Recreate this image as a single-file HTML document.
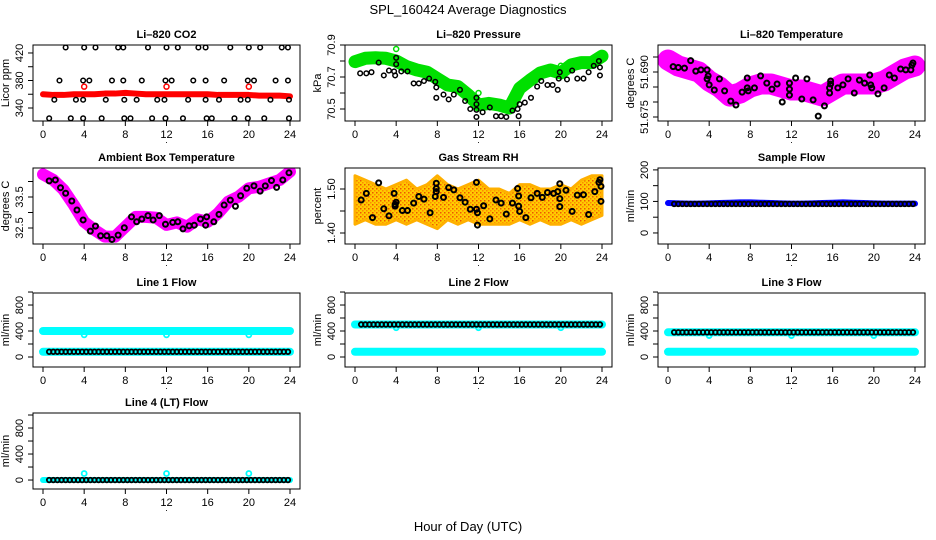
<!DOCTYPE html>
<html><head><meta charset="utf-8">
<style>
html,body{margin:0;padding:0;background:#fff;}
svg{display:block;font-family:"Liberation Sans",sans-serif;}
</style></head>
<body>
<svg id="chart" width="936" height="540" viewBox="0 0 936 540" xmlns="http://www.w3.org/2000/svg">
<defs>
<pattern id="rhpat" width="4" height="4" patternUnits="userSpaceOnUse">
<rect width="4" height="4" fill="#ffcc00"/><rect x="0" y="0" width="1.5" height="1.5" fill="#ee5500"/><rect x="2" y="2" width="1.5" height="1.5" fill="#ff8800"/>
</pattern>
</defs>
<text x="468" y="14" text-anchor="middle" font-size="13">SPL_160424  Average Diagnostics</text>
<text x="468" y="531" text-anchor="middle" font-size="13">Hour of Day (UTC)</text>
</svg>
<script>
// ---------- data ----------
const xTicks = [0,4,8,12,16,20,24];
const hours24 = [0,1,2,3,4,5,6,7,8,9,10,11,12,13,14,15,16,17,18,19,20,21,22,23,24];
const spikeHours = [4,12,20];

// CO2
const co2Red = [360,359,359,360,360,360,361,361,362,361,360,360,360,360,360,360,360,359,359,359,359,358,358,358,357];
const co2RedSpikes = [371,371,371];
const co2BlackHours = [2.2,4,5.1,7.3,7.8,10.2,12,13.1,15.1,15.8,18.2,20,21.1,23.2,23.8,
 1.6,3.9,4.5,6.7,7.8,9.6,11.9,12.5,14.6,15.8,17.6,19.9,20.5,22.6,23.8,
 1.1,3.2,3.9,6.1,7.9,9.1,11.1,11.8,14.1,15.8,17.1,19.2,19.9,22.1,23.9,
 0.6,2.7,3.9,5.7,7.9,8.5,10.6,11.9,13.6,15.9,16.4,18.6,19.9,21.5,23.9];
const co2BlackVals = [428,428,428,428,428,428,428,428,428,428,428,428,428,428,428,
 380,380,380,380,380,380,380,380,380,380,380,380,380,380,380,
 352,352,352,352,352,352,352,352,352,352,352,352,352,352,352,
 325,325,325,325,325,325,325,325,325,325,325,325,325,325,325];

// Pressure
const presGreen = [70.796,70.817,70.82,70.817,70.80,70.765,70.744,70.73,70.69,70.65,70.64,70.588,70.525,70.535,70.525,70.506,70.63,70.68,70.725,70.744,70.725,70.775,70.79,70.79,70.83];
const presGreenOut = [70.875,70.6,70.77];
const presBlackHours = [0.5,1.1,1.6,2.3,2.8,3.3,3.8,3.9,4,4,4.5,5.1,5.7,6.2,6.7,7.2,7.8,7.9,7.9,8.6,9.1,9.6,10.2,10.7,11.2,11.8,11.8,11.8,11.8,12.4,13.1,13.7,14.2,14.7,15.3,15.8,15.9,16,16.5,17.1,17.7,18.1,18.7,19.2,19.7,19.8,19.9,20.6,21.1,21.6,22.2,22.7,23.2,23.7,23.8,23.8];
const presBlackVals = [70.723,70.723,70.73,70.79,70.71,70.74,70.735,70.71,70.82,70.78,70.735,70.735,70.66,70.66,70.675,70.69,70.67,70.635,70.57,70.59,70.56,70.59,70.62,70.55,70.5,70.495,70.53,70.57,70.45,70.48,70.51,70.455,70.455,70.45,70.49,70.5,70.455,70.53,70.54,70.57,70.64,70.675,70.65,70.65,70.62,70.69,70.73,70.685,70.74,70.69,70.69,70.73,70.77,70.8,70.71,70.76];

// Li-820 temperature
const tempMag = [51.694,51.692,51.691,51.690,51.687,51.685,51.682,51.683,51.685,51.686,51.686,51.685,51.684,51.684,51.683,51.682,51.684,51.686,51.686,51.686,51.686,51.687,51.689,51.691,51.692];
const tempBlackHours = [0.5,1.0,1.6,2.2,2.7,3.2,3.8,3.8,3.9,4,4.5,5.0,5.5,6.1,6.6,7.2,7.7,7.7,7.8,8.4,9.0,9.6,10.1,10.6,11.1,11.8,11.8,11.8,12.4,13,13.5,14.1,14.6,15.2,15.7,15.7,15.8,15.8,16.5,17.0,17.5,18.1,18.6,19.1,19.6,19.7,19.8,20.4,21.0,21.5,22.0,22.6,23.1,23.6,23.7,23.8];
const tempBlackVals = [51.6918,51.6915,51.6913,51.6938,51.6903,51.6907,51.6907,51.6877,51.6887,51.6857,51.6840,51.6877,51.6837,51.6803,51.6790,51.6833,51.6880,51.6847,51.6837,51.6847,51.6887,51.6863,51.6843,51.6860,51.6800,51.6863,51.6843,51.6823,51.6880,51.6810,51.6877,51.6807,51.6753,51.6787,51.6847,51.6830,51.6870,51.6860,51.6847,51.6857,51.6877,51.6830,51.6873,51.6863,51.6890,51.6857,51.6847,51.6827,51.6847,51.6890,51.6880,51.6910,51.6907,51.6907,51.6923,51.6930];

// Ambient box temperature
const ambMag = [34.23,34.05,33.73,33.24,32.70,32.44,32.22,32.22,32.54,32.86,32.86,32.83,32.6,32.68,32.54,32.78,32.70,32.97,33.35,33.51,33.78,33.83,33.94,34.05,34.32];
const ambBlackHours = [0.6,1.2,1.7,2.2,2.8,3.3,3.9,4.6,5.1,5.6,6.2,6.7,7.3,7.9,8.6,9.1,9.6,10.2,10.7,11.3,11.9,12.6,13.1,13.6,14.2,14.7,15.3,15.8,15.9,16.6,17.1,17.6,18.2,18.7,19.2,19.8,20.5,21.1,21.6,22.2,22.7,23.3,23.9];
const ambBlackVals = [34.02,34.05,33.80,33.62,33.37,33.08,32.76,32.40,32.56,32.25,32.25,32.13,32.27,32.51,32.86,32.70,32.79,32.90,32.76,32.90,32.62,32.68,32.70,32.47,32.57,32.59,32.79,32.59,32.86,32.70,32.94,33.24,33.40,33.20,33.54,33.78,33.86,33.69,33.86,34.03,33.81,34.05,34.28];

// Gas stream RH
const rhLo = [1.42,1.43,1.42,1.42,1.43,1.42,1.43,1.42,1.41,1.43,1.42,1.43,1.42,1.42,1.42,1.42,1.43,1.42,1.43,1.42,1.42,1.43,1.42,1.43,1.44];
const rhHi = [1.53,1.52,1.51,1.50,1.51,1.52,1.50,1.51,1.53,1.51,1.50,1.51,1.52,1.50,1.50,1.49,1.51,1.51,1.50,1.50,1.51,1.50,1.52,1.53,1.53];
const rhBlackHours = [0.6,1.1,1.7,2.3,2.8,3.3,3.8,3.9,3.9,4.0,4.6,5.1,5.7,6.2,6.7,7.3,7.8,7.9,7.9,7.9,8.6,9.1,9.6,10.2,10.7,11.2,11.8,11.8,11.9,11.9,12.5,13.1,13.7,14.2,14.7,15.3,15.8,15.9,15.9,16.0,16.6,17.1,17.7,18.2,18.7,19.3,19.7,19.9,19.9,19.9,20.5,21.1,21.6,22.2,22.7,23.3,23.7,23.8,23.9,23.9];
const rhBlackVals = [1.475,1.49,1.435,1.514,1.455,1.439,1.49,1.461,1.465,1.47,1.451,1.451,1.468,1.483,1.477,1.446,1.483,1.494,1.501,1.513,1.481,1.503,1.498,1.48,1.47,1.454,1.454,1.515,1.446,1.418,1.462,1.432,1.475,1.468,1.443,1.468,1.501,1.484,1.461,1.449,1.435,1.48,1.49,1.481,1.492,1.49,1.494,1.512,1.478,1.46,1.497,1.449,1.486,1.487,1.442,1.494,1.515,1.521,1.506,1.472];

// Flows
const flowHours = [0.6,1.0,1.4,1.8,2.2,2.6,3.0,3.4,3.8,4.2,4.6,5.0,5.4,5.8,6.2,6.6,7.0,7.4,7.8,8.2,8.6,9.0,9.4,9.8,10.2,10.6,11.0,11.4,11.8,12.2,12.6,13.0,13.4,13.8,14.2,14.6,15.0,15.4,15.8,16.2,16.6,17.0,17.4,17.8,18.2,18.6,19.0,19.4,19.8,20.2,20.6,21.0,21.4,21.8,22.2,22.6,23.0,23.4,23.8];
const sampleBlue = [95,94,93,93,94,95,96,97,97,96,95,94,93,93,94,95,96,97,96,95,94,93,93,93,93];
const sampleBlack = [92,92,92,92,92,92,92,92,92,92,92,92,92,92,92,92,92,92,92,92,92,92,92,92,92];
const line1CyanHi = [400,400,400,400,400,400,400,400,400,400,400,400,400,400,400,400,400,400,400,400,400,400,400,400,400];
const line1CyanLo = [80,80,80,80,80,80,80,80,80,80,80,80,80,80,80,80,80,80,80,80,80,80,80,80,80];
const line1Black = [80,80,80,80,80,80,80,80,80,80,80,80,80,80,80,80,80,80,80,80,80,80,80,80,80];
const line1Spikes = [340,340,340];
const line2CyanHi = [500,500,500,500,500,500,500,500,500,500,500,500,500,500,500,500,500,500,500,500,500,500,500,500,500];
const line2CyanLo = [80,80,80,80,80,80,80,80,80,80,80,80,80,80,80,80,80,80,80,80,80,80,80,80,80];
const line2Black = [500,500,500,500,500,500,500,500,500,500,500,500,500,500,500,500,500,500,500,500,500,500,500,500,500];
const line2Spikes = [450,450,450];
const line3CyanHi = [380,380,380,380,380,380,380,380,380,380,380,380,380,380,380,380,380,380,380,380,380,380,380,380,380];
const line3CyanLo = [80,80,80,80,80,80,80,80,80,80,80,80,80,80,80,80,80,80,80,80,80,80,80,80,80];
const line3Black = [380,380,380,380,380,380,380,380,380,380,380,380,380,380,380,380,380,380,380,380,380,380,380,380,380];
const line3Spikes = [330,330,330];
const line4Cyan = [0,0,0,0,0,0,0,0,0,0,0,0,0,0,0,0,0,0,0,0,0,0,0,0,0];
const line4Black = [0,0,0,0,0,0,0,0,0,0,0,0,0,0,0,0,0,0,0,0,0,0,0,0,0];
const line4Spikes = [100,100,100];

// ---------- drawing ----------
const NS = "http://www.w3.org/2000/svg";
const svg = document.getElementById('chart');
const cols = [[33,300],[345,612],[658,925]];
const rows = [[45,121],[168,244],[293,367],[413,489]];
let clipId = 0;
function mk(tag, attrs, parent){
  const e = document.createElementNS(NS, tag);
  for (const k in attrs) e.setAttribute(k, attrs[k]);
  (parent||svg).appendChild(e);
  return e;
}
function panel(c, r, name, title, ylabel, ylo, yhi, yTicks, yLabels){
  const [x0,x1] = cols[c], [y0,y1] = rows[r];
  const g = mk('g', {});
  
  
  const xs = h => x0 + 10 + h*(x1-x0-20)/24;
  const ys = v => y1 - (v-ylo)*(y1-y0)/(yhi-ylo);
  clipId++;
  const cp = mk('clipPath', {id:'cp'+clipId}, g);
  mk('rect', {x:x0, y:y0, width:x1-x0, height:y1-y0}, cp);
  const plot = mk('g', {'clip-path':'url(#cp'+clipId+')'}, g);
  const t = mk('text', {x:(x0+x1)/2, y:y0-7, 'text-anchor':'middle', 'font-size':11, 'font-weight':'bold'}, g);
  t.textContent = title;
  
  
  const box = mk('rect', {x:x0, y:y0, width:x1-x0, height:y1-y0, fill:'none', stroke:'#000', 'stroke-width':1}, g);
  
  
  xTicks.forEach(h => {
    const x = xs(h);
    mk('line', {x1:x, x2:x, y1:y1, y2:y1+5, stroke:'#000'}, g);
    const lt = mk('text', {x:x, y:y1+17, 'text-anchor':'middle', 'font-size':11}, g);
    lt.textContent = h;
    
    
  });
  mk('text', {x:(x0+x1)/2, y:y1+22, 'text-anchor':'middle', 'font-size':9}, g).textContent = '.';
  yTicks.forEach(v => {
    const y = ys(v);
    mk('line', {x1:x0-5, x2:x0, y1:y, y2:y, stroke:'#000'}, g);
  });
  yLabels.forEach(v => {
    const y = ys(v);
    const lx = x0 - 10;
    const lt = mk('text', {x:lx, y:y, 'text-anchor':'middle', 'font-size':11, transform:'rotate(-90 '+lx+' '+y+')'}, g);
    lt.textContent = v;
    
    
  });
  const ax = x0 - 24, ay = (y0+y1)/2;
  const yt = mk('text', {x:ax, y:ay, 'text-anchor':'middle', 'font-size':11, transform:'rotate(-90 '+ax+' '+ay+')'}, g);
  yt.textContent = ylabel;
  
  
  return {xs, ys, plot};
}
function band(p, hs, vals, color, w, name){
  const pts = hs.map((h,i)=> p.xs(h)+','+p.ys(vals[i])).join(' ');
  const e = mk('polyline', {points:pts, fill:'none', stroke:color, 'stroke-width':w, 'stroke-linejoin':'round', 'stroke-linecap':'round'}, p.plot);
  
  
}
function pts(p, hs, vals, color, r, sw, name, fill){
  hs.forEach((h,i)=>{
    const e = mk('circle', {cx:p.xs(h), cy:p.ys(vals[i]), r:r, fill:fill||'none', stroke:color, 'stroke-width':sw}, p.plot);
    
    
  });
}
function hourlyAt(arr, h){ return arr[Math.round(h)]; }

// CO2
let p = panel(0,0,'panel-co2','Li\u2013820 CO2','Licor ppm',321.1,431.6,[340,360,380,400,420],[340,380,420]);
band(p, hours24, co2Red, '#ff0000', 6, 'co2-red-series');
pts(p, spikeHours, co2RedSpikes, '#ff0000', 2.5, 1.5, 'co2-red-point');
pts(p, co2BlackHours, co2BlackVals, '#000', 2.3, 1.5, 'co2-black-point');

// Pressure
p = panel(1,0,'panel-pressure','Li\u2013820 Pressure','kPa',70.425,70.9,[70.5,70.6,70.7,70.8,70.9],['70.5','70.7','70.9']);
band(p, hours24, presGreen, '#00e000', 13, 'pressure-green-series');
pts(p, [0].concat(spikeHours), [70.79].concat(presGreenOut), '#00e000', 2.5, 1.5, 'pressure-green-point');
pts(p, presBlackHours, presBlackVals, '#000', 2.3, 1.5, 'pressure-black-point');

// Li-820 temperature
p = panel(2,0,'panel-li820-temp','Li\u2013820 Temperature','degrees C',51.67367,51.699,[51.675,51.680,51.685,51.690,51.695],['51.675','51.690']);
band(p, hours24, tempMag, '#ff00ff', 21, 'temp-magenta-series');
pts(p, tempBlackHours, tempBlackVals, '#000', 2.5, 2, 'temp-black-point');

// Ambient
p = panel(0,1,'panel-ambient-temp','Ambient Box Temperature','degrees C',31.984,34.435,[32.5,33.0,33.5,34.0],['32.5','33.5']);
band(p, hours24, ambMag, '#ff00ff', 12, 'ambient-magenta-series');
pts(p, ambBlackHours, ambBlackVals, '#000', 2.5, 2, 'ambient-black-point');

// RH
p = panel(1,1,'panel-rh','Gas Stream RH','percent',1.375,1.5477,[1.40,1.45,1.50],['1.40','1.50']);
{
  const up = hours24.map((h,i)=> p.xs(h)+','+p.ys(rhHi[i]));
  const dn = hours24.map((h,i)=> p.xs(h)+','+p.ys(rhLo[i])).reverse();
  const poly = mk('polygon', {points:up.concat(dn).join(' '), fill:'url(#rhpat)', stroke:'#ffb000', 'stroke-width':3, 'stroke-linejoin':'round'}, p.plot);
  
  
}
pts(p, rhBlackHours, rhBlackVals, '#000', 2.5, 2, 'rh-black-point');

// Sample flow
p = panel(2,1,'panel-sample-flow','Sample Flow','ml/min',-35,206,[0,50,100,150,200],[0,100,200]);
band(p, hours24, sampleBlue, '#0000ff', 6, 'sample-blue-series');
pts(p, flowHours, flowHours.map(h=>hourlyAt(sampleBlack,h)), '#000', 2.3, 1.8, 'sample-black-point');

// Lines 1-3
const lineDefs = [
  [0,2,'panel-line1-flow','Line 1 Flow',line1CyanHi,line1CyanLo,line1Black,line1Spikes],
  [1,2,'panel-line2-flow','Line 2 Flow',line2CyanHi,line2CyanLo,line2Black,line2Spikes],
  [2,2,'panel-line3-flow','Line 3 Flow',line3CyanHi,line3CyanLo,line3Black,line3Spikes]
];
lineDefs.forEach(d=>{
  const q = panel(d[0],d[1],d[2],d[3],'ml/min',-154,985,[0,200,400,600,800,1000],[0,400,800]);
  band(q, hours24, d[4], '#00ffff', 8, 'cyan-upper-series');
  band(q, hours24, d[5], '#00ffff', 8, 'cyan-lower-series');
  pts(q, spikeHours, d[7], '#00ffff', 2.5, 1.8, 'cyan-dip-point');
  pts(q, flowHours, flowHours.map(h=>hourlyAt(d[6],h)), '#000', 2.3, 1.8, 'black-flow-point');
});

// Line 4
p = panel(0,3,'panel-line4-flow','Line 4 (LT) Flow','ml/min',-138,1031,[0,200,400,600,800,1000],[0,400,800]);
band(p, hours24, line4Cyan, '#00ffff', 6, 'line4-cyan-series');
pts(p, spikeHours, line4Spikes, '#00ffff', 2.5, 1.8, 'line4-cyan-spike');
pts(p, flowHours, flowHours.map(h=>hourlyAt(line4Black,h)), '#000', 2.3, 1.8, 'line4-black-point');
</script>
</body></html>
